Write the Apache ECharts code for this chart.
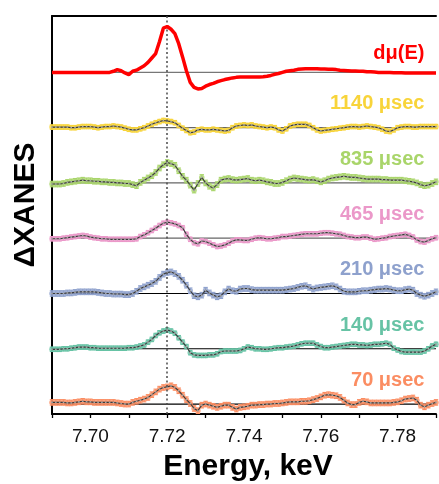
<!DOCTYPE html>
<html>
<head>
<meta charset="utf-8">
<script src="https://cdn.jsdelivr.net/npm/echarts@6/dist/echarts.min.js"></script>
<style>
  html, body { margin: 0; padding: 0; background: #fff; }
  #chart { width: 439px; height: 484px; }
</style>
</head>
<body>
<div id="chart"></div>
<script>
// Energy grid (keV): 7.690 … 7.790 in 1 eV steps
const energyStart = 7.690;
const energyStep = 0.001;

// Derivative of the ground-state XANES, dμ(E)
const dmu = [
  0, 0, 0, 0, 0, 0, 0, 0, 0, 0, 0, 0, 0, 0, 0, 0,
  0.02, 0.05, 0.03, -0.01, -0.04, 0.02, 0.04, 0.08, 0.12, 0.18,
  0.26, 0.34, 0.56, 0.80, 0.83, 0.78, 0.70, 0.52, 0.28, 0.03,
  -0.18, -0.27, -0.30, -0.29, -0.25, -0.22, -0.20, -0.17, -0.15, -0.13,
  -0.115, -0.10, -0.09, -0.085, -0.085, -0.085, -0.085, -0.085, -0.085, -0.08,
  -0.07, -0.055, -0.035, -0.02, 0, 0.02, 0.03, 0.04, 0.055, 0.06,
  0.065, 0.065, 0.065, 0.065, 0.06, 0.06, 0.055, 0.055, 0.05, 0.04,
  0.035, 0.03, 0.025, 0.025, 0.02, 0.02, 0.01, 0.01, 0.005,
  0, 0, 0, 0, -0.005, -0.005, -0.005, -0.01, -0.01, -0.01, -0.01, -0.01, -0.01, -0.01, -0.01, -0.01
];

// Transient difference spectra, one per pump–probe delay
const t1140 = [
  0.01, 0.01, 0.01, 0.01, 0.01, 0.0, 0.0, 0.01, 0.02, 0.02,
  0.02, 0.01, 0.0, 0.01, 0.02, 0.02, 0.03, 0.02, 0.01, -0.01,
  -0.03, -0.04, -0.04, -0.02, 0.0, 0.03, 0.06, 0.09, 0.11, 0.13,
  0.12, 0.11, 0.09, 0.04, -0.01, -0.05, -0.09, -0.08, -0.04, -0.03,
  -0.04, -0.04, -0.03, -0.04, -0.05, -0.06, -0.05, 0.0, 0.03, 0.04,
  0.05, 0.04, 0.05, 0.03, 0.02, 0.01, 0.0, 0.01, 0.0, -0.04,
  -0.06, -0.02, 0.03, 0.05, 0.06, 0.06, 0.06, 0.04, 0.0, -0.04,
  -0.06, -0.05, -0.04, -0.03, -0.02, -0.01, 0.0, 0.01, 0.02, 0.02,
  0.01, 0.02, 0.03, 0.02, 0.01, 0.0, -0.03, -0.06, -0.07, -0.04,
  0.0, 0.01, 0.02, 0.02, 0.01, 0.01, 0.02, 0.02, 0.02, 0.02, 0.02
];
const t835 = [
  -0.02, -0.02, -0.02, -0.01, 0.01, 0.02, 0.03, 0.04, 0.05, 0.04,
  0.04, 0.03, 0.03, 0.02, 0.02, 0.01, 0.01, 0.0, 0.0, -0.01,
  -0.01, -0.03, -0.05, 0.01, 0.05, 0.09, 0.13, 0.19, 0.27, 0.33,
  0.37, 0.35, 0.32, 0.22, 0.12, 0.05, -0.04, -0.13, -0.01, 0.10,
  0.0, -0.06, -0.09, -0.03, 0.05, 0.07, 0.08, 0.06, 0.05, 0.06,
  0.07, 0.08, 0.05, 0.04, 0.05, 0.04, 0.02, 0.01, -0.01, -0.01,
  0.01, 0.04, 0.07, 0.09, 0.08, 0.07, 0.06, 0.05, 0.06, 0.04,
  0.02, 0.04, 0.07, 0.09, 0.10, 0.11, 0.12, 0.11, 0.10, 0.10,
  0.09, 0.08, 0.07, 0.07, 0.07, 0.07, 0.06, 0.06, 0.05, 0.05,
  0.05, 0.05, 0.04, 0.03, 0.02, 0.0, -0.03, -0.05, -0.04, -0.01, 0.02
];
const t465 = [
  -0.01, -0.01, -0.01, 0.0, 0.01, 0.02, 0.03, 0.04, 0.05, 0.04,
  0.02, 0.01, 0.0, -0.01, -0.01, -0.02, -0.02, -0.02, -0.02, -0.02,
  -0.02, -0.02, -0.01, 0.03, 0.06, 0.10, 0.14, 0.18, 0.23, 0.27,
  0.29, 0.28, 0.26, 0.23, 0.19, 0.07, -0.02, -0.08, -0.10, -0.05,
  -0.06, -0.09, -0.12, -0.15, -0.14, -0.12, -0.09, -0.05, -0.03, -0.03,
  -0.04, -0.04, -0.02, 0.0, 0.01, 0.0, -0.01, -0.01, 0.0, 0.01,
  0.03, 0.03, 0.04, 0.05, 0.06, 0.07, 0.08, 0.08, 0.08, 0.08,
  0.09, 0.10, 0.10, 0.09, 0.08, 0.07, 0.05, 0.03, 0.02, 0.01,
  0.01, 0.02, 0.02, 0.0, -0.02, -0.01, 0.0, 0.01, 0.03, 0.04,
  0.05, 0.06, 0.07, 0.05, 0.02, -0.03, -0.06, -0.07, -0.04, -0.01, 0.01
];
const t210 = [
  0.0, 0.0, 0.0, 0.0, 0.01, 0.01, 0.02, 0.03, 0.03, 0.03,
  0.03, 0.03, 0.02, 0.01, 0.0, 0.0, -0.01, -0.01, -0.01, -0.02,
  -0.02, 0.0, 0.04, 0.09, 0.12, 0.15, 0.18, 0.22, 0.29, 0.35,
  0.38, 0.39, 0.36, 0.31, 0.24, 0.15, 0.05, -0.04, -0.06, -0.03,
  0.06, 0.01, -0.03, -0.06, -0.04, 0.03, 0.08, 0.05, 0.04, 0.08,
  0.09, 0.09, 0.07, 0.06, 0.06, 0.06, 0.06, 0.06, 0.06, 0.06,
  0.06, 0.07, 0.08, 0.09, 0.11, 0.13, 0.14, 0.11, 0.08, 0.10,
  0.11, 0.12, 0.13, 0.14, 0.12, 0.08, 0.04, 0.03, 0.03, 0.03,
  0.04, 0.05, 0.05, 0.06, 0.07, 0.08, 0.08, 0.09, 0.08, 0.06,
  0.05, 0.05, 0.07, 0.08, 0.06, 0.0, -0.03, -0.05, -0.03, 0.0, 0.03
];
const t140 = [
  -0.01, -0.01, -0.01, 0.0, 0.0, 0.01, 0.02, 0.03, 0.03, 0.03,
  0.02, 0.02, 0.01, 0.01, 0.01, 0.01, 0.01, 0.01, 0.01, 0.01,
  0.02, 0.02, 0.03, 0.05, 0.07, 0.12, 0.17, 0.24, 0.29, 0.32,
  0.34, 0.32, 0.28, 0.20, 0.12, 0.04, -0.07, -0.11, -0.12, -0.12,
  -0.12, -0.11, -0.11, -0.09, -0.05, -0.04, -0.04, -0.04, -0.04, -0.03,
  0.0, 0.03, 0.02, 0.0, 0.0, -0.01, -0.01, 0.0, 0.01, 0.02,
  0.02, 0.03, 0.04, 0.05, 0.07, 0.09, 0.10, 0.10, 0.10, 0.07,
  0.04, 0.02, 0.02, 0.03, 0.04, 0.05, 0.06, 0.07, 0.08, 0.08,
  0.07, 0.07, 0.06, 0.07, 0.08, 0.08, 0.09, 0.10, 0.08, 0.01,
  -0.02, -0.05, -0.06, -0.06, -0.06, -0.06, -0.06, -0.04, 0.0, 0.05, 0.08
];
const t70 = [
  0.03, 0.03, 0.03, 0.03, 0.02, 0.02, 0.03, 0.04, 0.05, 0.04,
  0.04, 0.03, 0.03, 0.03, 0.03, 0.03, 0.03, 0.02, 0.01, 0.0,
  0.0, 0.03, 0.05, 0.07, 0.09, 0.12, 0.17, 0.22, 0.27, 0.30,
  0.31, 0.33, 0.30, 0.24, 0.16, 0.08, 0.01, -0.08, -0.12, -0.02,
  0.0, -0.02, -0.04, -0.06, -0.04, -0.02, -0.02, -0.06, -0.09, -0.06,
  -0.05, -0.04, -0.02, -0.02, -0.01, -0.01, 0.0, 0.0, 0.01, 0.01,
  0.02, 0.03, 0.04, 0.04, 0.04, 0.05, 0.05, 0.06, 0.08, 0.10,
  0.13, 0.16, 0.17, 0.16, 0.15, 0.12, 0.07, 0.02, -0.01, -0.01,
  0.03, 0.05, 0.04, 0.02, 0.02, 0.02, 0.02, 0.02, 0.02, 0.03,
  0.04, 0.06, 0.09, 0.10, 0.11, 0.07, -0.02, -0.05, -0.02, 0.01, 0.03
];

// Stack order, bottom to top
const traces = [t70, t140, t210, t465, t835, t1140];
const traceLabels = ['70 μsec', '140 μsec', '210 μsec', '465 μsec', '835 μsec', '1140 μsec'];
const traceColors = ['#fb8d62', '#67c3a5', '#8ea1cd', '#eb98c9', '#a9d56a', '#f8d43a'];
const traceErr = [0.05, 0.04, 0.05, 0.04, 0.05, 0.04];
const baseColors = ['#000', '#000', '#000', '#666', '#666', '#666'];
const dmuLabel = 'dμ(E)';
const edgeEnergy = 7.72;

const energies = dmu.map((_, i) => +(energyStart + i * energyStep).toFixed(3));
const X_MIN = 7.69, X_MAX = 7.79, Y_MIN = -0.18, Y_MAX = 7.02;
const FONT = '"Liberation Sans", Arial, Helvetica, sans-serif';

const chart = echarts.init(document.getElementById('chart'), null, { renderer: 'canvas' });

const series = [];

function baseline(offset, color) {
  return {
    type: 'line', silent: true, z: 1, symbol: 'none',
    data: [[X_MIN, offset], [X_MAX, offset]],
    lineStyle: { color: color, width: 1.2 }
  };
}

traces.forEach((vals, j) => {
  const off = j;
  const color = traceColors[j];
  const err = traceErr[j];
  series.push(baseline(off, baseColors[j]));
  // error bars
  series.push({
    type: 'custom', silent: true, z: 2,
    data: energies.map((e, i) => [e, vals[i] + off - err, vals[i] + off + err]),
    renderItem: function (params, api) {
      const lo = api.coord([api.value(0), api.value(1)]);
      const hi = api.coord([api.value(0), api.value(2)]);
      const cap = 2.2;
      const st = { stroke: color, lineWidth: 1.1 };
      return {
        type: 'group',
        children: [
          { type: 'line', shape: { x1: lo[0], y1: lo[1], x2: hi[0], y2: hi[1] }, style: st },
          { type: 'line', shape: { x1: lo[0] - cap, y1: lo[1], x2: lo[0] + cap, y2: lo[1] }, style: st },
          { type: 'line', shape: { x1: hi[0] - cap, y1: hi[1], x2: hi[0] + cap, y2: hi[1] }, style: st }
        ]
      };
    }
  });
  // measured points
  series.push({
    type: 'scatter', silent: true, z: 3,
    symbol: 'circle', symbolSize: 5.5,
    itemStyle: { color: color },
    data: energies.map((e, i) => [e, vals[i] + off])
  });
  // fit curve
  series.push({
    type: 'line', silent: true, z: 4,
    symbol: 'rect', symbolSize: 1.6, showSymbol: true,
    itemStyle: { color: '#a8a8a8' },
    lineStyle: { color: '#3a3a3a', width: 1.15 },
    data: energies.map((e, i) => [e, vals[i] + off])
  });
});

// ground-state derivative on top
series.push(baseline(6, '#777'));
series.push({
  type: 'line', silent: true, z: 5, symbol: 'none',
  lineStyle: { color: '#ff0000', width: 3.5 },
  data: energies.map((e, i) => [e, dmu[i] + 6]),
  markLine: {
    silent: true, symbol: 'none', label: { show: false },
    lineStyle: { color: '#4a4a4a', width: 1.5, type: [2, 2.5] },
    data: [{ xAxis: edgeEnergy }]
  }
});

chart.setOption({
  animation: false,
  backgroundColor: '#fff',
  grid: { left: 52, right: 0, top: 16, bottom: 70, containLabel: false },
  xAxis: [
    {
      type: 'value', min: X_MIN, max: X_MAX, interval: 0.01,
      axisLine: { show: true, onZero: false, lineStyle: { color: '#000', width: 2 } },
      axisTick: { show: true, length: 4, lineStyle: { color: '#000', width: 1.3 } },
      axisLabel: {
        fontFamily: FONT, fontSize: 19, color: '#111', margin: 13,
        formatter: v => (Math.round(v * 100) % 2 === 0 ? v.toFixed(2) : '')
      },
      splitLine: { show: false }
    },
    {
      type: 'value', position: 'top', min: X_MIN, max: X_MAX,
      axisLine: { show: true, onZero: false, lineStyle: { color: '#000', width: 2 } },
      axisTick: { show: false }, axisLabel: { show: false }, splitLine: { show: false }
    }
  ],
  yAxis: {
    type: 'value', min: Y_MIN, max: Y_MAX,
    axisLine: { show: true, onZero: false, lineStyle: { color: '#000', width: 2 } },
    axisTick: { show: false }, axisLabel: { show: false }, splitLine: { show: false }
  },
  series: series
});

// Delay labels at the right end of each trace
const labelE = 7.787;
const graphics = [];
traceLabels.forEach((txt, j) => {
  const p = chart.convertToPixel({ xAxisIndex: 0, yAxisIndex: 0 }, [labelE, j + 0.43]);
  graphics.push({
    type: 'text', x: p[0], y: p[1], silent: true, z: 10,
    style: { text: txt, fill: traceColors[j], font: 'bold 20px ' + FONT, textAlign: 'right', textVerticalAlign: 'middle' }
  });
});
const pd = chart.convertToPixel({ xAxisIndex: 0, yAxisIndex: 0 }, [labelE, 6.35]);
graphics.push({
  type: 'text', x: pd[0], y: pd[1], silent: true, z: 10,
  style: { text: dmuLabel, fill: '#ff0000', font: 'bold 20px ' + FONT, textAlign: 'right', textVerticalAlign: 'middle' }
});
// axis titles
graphics.push({
  type: 'text', x: 248, y: 467, silent: true,
  style: { text: 'Energy, keV', fill: '#000', font: 'bold 30px ' + FONT, textAlign: 'center', textVerticalAlign: 'middle' }
});
graphics.push({
  type: 'text', x: 26, y: 205, rotation: Math.PI / 2, silent: true,
  style: { text: 'ΔXANES', fill: '#000', font: 'bold 30px ' + FONT, textAlign: 'center', textVerticalAlign: 'middle' }
});
chart.setOption({ graphic: graphics });
</script>
</body>
</html>
